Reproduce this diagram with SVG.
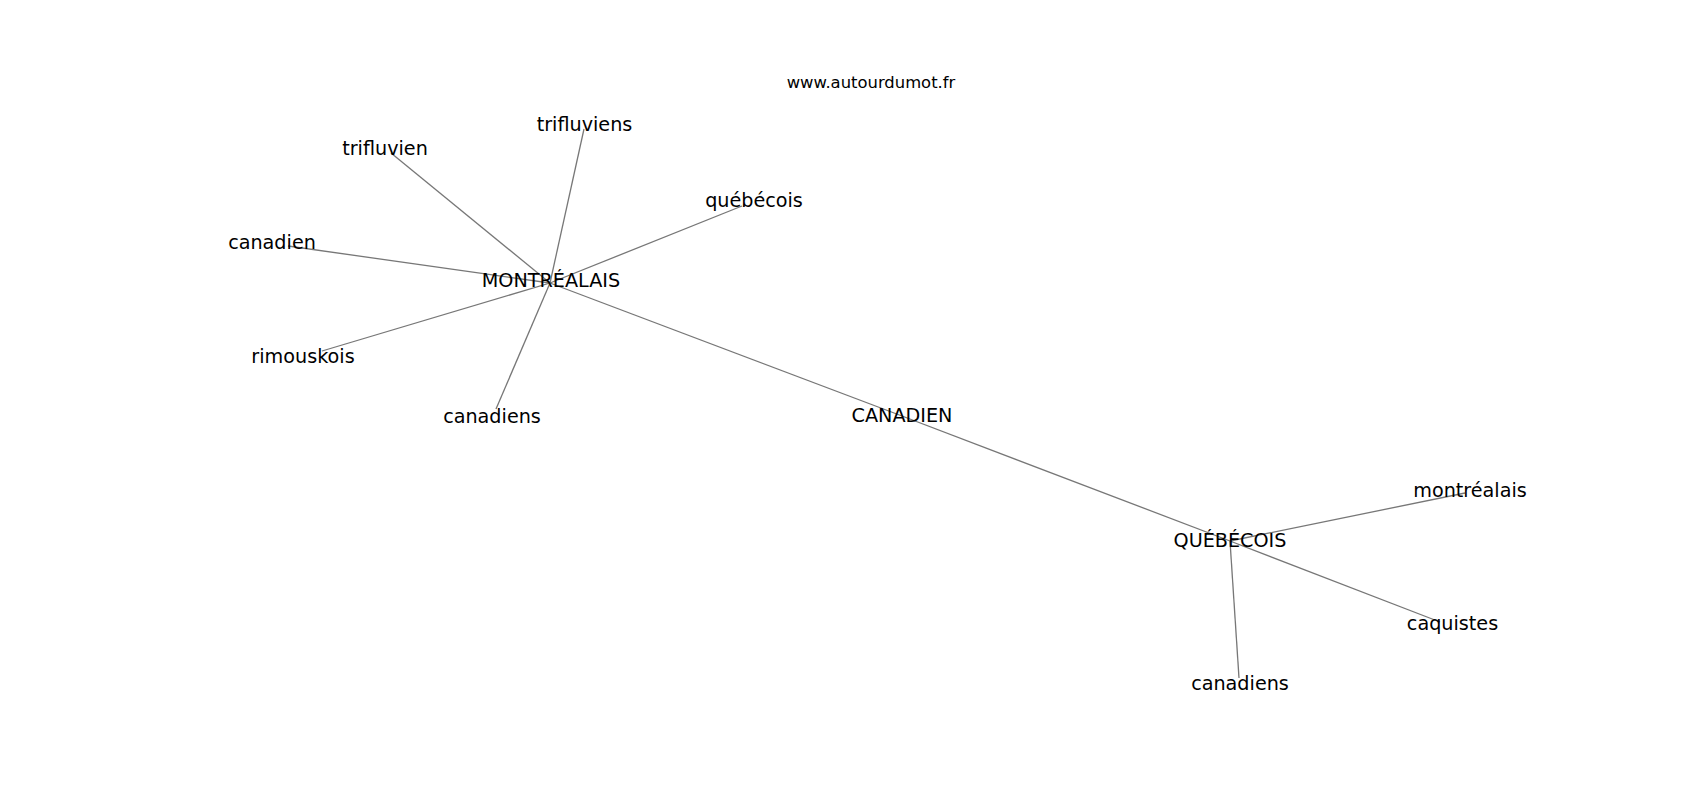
<svg xmlns="http://www.w3.org/2000/svg" width="1700" height="800" viewBox="0 0 1700 800">
<style>
.e{stroke:#777777;stroke-width:1.3;fill:none}
.l{font-family:"DejaVu Sans",sans-serif;font-size:19.2px;fill:#000;text-anchor:middle}
.t{font-family:"DejaVu Sans",sans-serif;font-size:16.4px;fill:#000;text-anchor:middle}
</style>
<rect width="1700" height="800" fill="#fff"/>
<g id="connectors">
<line class="e" x1="550" y1="283" x2="902" y2="416"/>
<line class="e" x1="902" y1="416" x2="1230" y2="541"/>
<line class="e" x1="550" y1="283" x2="584" y2="129"/>
<line class="e" x1="550" y1="283" x2="391" y2="153"/>
<line class="e" x1="550" y1="283" x2="288" y2="246"/>
<line class="e" x1="550" y1="283" x2="322" y2="351"/>
<line class="e" x1="550" y1="283" x2="496" y2="409"/>
<line class="e" x1="550" y1="283" x2="742" y2="206"/>
<line class="e" x1="1230" y1="541" x2="1465" y2="493"/>
<line class="e" x1="1230" y1="541" x2="1440" y2="622"/>
<line class="e" x1="1230" y1="541" x2="1239" y2="678"/>
</g>
<text class="t" x="871" y="88">www.autourdumot.fr</text>
<g id="n-montrealais-main"><text class="l" x="551" y="287">MONTRÉALAIS</text></g>
<g id="n-canadien-main"><text class="l" x="902" y="422">CANADIEN</text></g>
<g id="n-quebecois-main"><text class="l" x="1230" y="547">QUÉBÉCOIS</text></g>
<g id="n-trifluviens"><text class="l" x="584.5" y="131">trifluviens</text></g>
<g id="n-trifluvien"><text class="l" x="385" y="155">trifluvien</text></g>
<g id="n-canadien"><text class="l" x="272" y="249">canadien</text></g>
<g id="n-rimouskois"><text class="l" x="303" y="363">rimouskois</text></g>
<g id="n-canadiens-l"><text class="l" x="492" y="423">canadiens</text></g>
<g id="n-quebecois"><text class="l" x="754" y="207">québécois</text></g>
<g id="n-montrealais"><text class="l" x="1470" y="497">montréalais</text></g>
<g id="n-caquistes"><text class="l" x="1452.5" y="630">caquistes</text></g>
<g id="n-canadiens-r"><text class="l" x="1240" y="690">canadiens</text></g>
</svg>
